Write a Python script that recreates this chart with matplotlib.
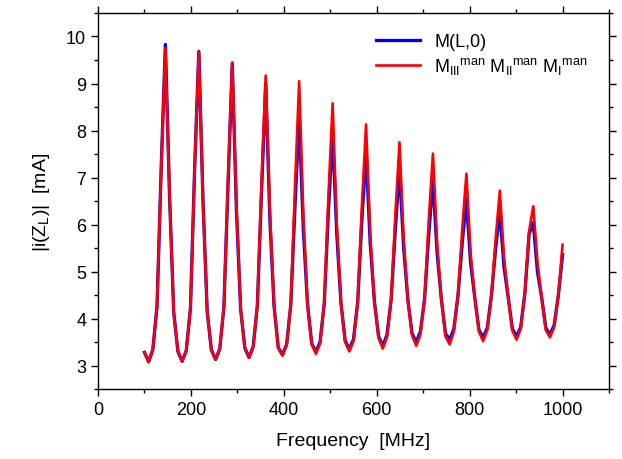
import numpy as np
import matplotlib
matplotlib.use('Agg')
import matplotlib.pyplot as plt
from matplotlib.ticker import MultipleLocator

plt.rcParams['font.family'] = ['Liberation Sans', 'DejaVu Sans']
plt.rcParams['mathtext.fontset'] = 'custom'
plt.rcParams['mathtext.rm'] = 'Liberation Sans'
plt.rcParams['mathtext.it'] = 'Liberation Sans'
plt.rcParams['mathtext.default'] = 'regular'

# frequency sweep [MHz]
freq = [100, 109, 118, 127, 136, 145, 154, 163, 172, 181,
        190, 199, 208, 217, 226, 235, 244, 253, 262, 271,
        280, 289, 298, 307, 316, 325, 334, 343, 352, 361,
        370, 379, 388, 397, 406, 415, 424, 433, 442, 451,
        460, 469, 478, 487, 496, 505, 514, 523, 532, 541,
        550, 559, 568, 577, 586, 595, 604, 613, 622, 631,
        640, 649, 658, 667, 676, 685, 694, 703, 712, 721,
        730, 739, 748, 757, 766, 775, 784, 793, 802, 811,
        820, 829, 838, 847, 856, 865, 874, 883, 892, 901,
        910, 919, 928, 937, 946, 955, 964, 973, 982, 991,
        1000]

# M(L,0)
i_full = [3.28, 3.08, 3.34, 4.26, 7.2, 9.83, 6.6, 4.13, 3.30, 3.09,
          3.32, 4.22, 7.2, 9.68, 6.5, 4.15, 3.33, 3.13, 3.35, 4.25,
          6.9, 9.42, 6.3, 4.20, 3.38, 3.17, 3.40, 4.28, 6.7, 9.00,
          6.1, 4.26, 3.38, 3.23, 3.45, 4.30, 6.4, 8.30, 5.9, 4.30,
          3.47, 3.29, 3.50, 4.32, 6.3, 7.95, 5.8, 4.33, 3.53, 3.35,
          3.56, 4.35, 6.1, 7.55, 5.6, 4.36, 3.62, 3.42, 3.65, 4.40,
          5.9, 7.20, 5.5, 4.40, 3.68, 3.50, 3.72, 4.42, 5.8, 6.95,
          5.4, 4.42, 3.68, 3.55, 3.78, 4.50, 5.6, 6.55, 5.2, 4.45,
          3.76, 3.60, 3.80, 4.50, 5.5, 6.28, 5.1, 4.45, 3.78, 3.62,
          3.82, 4.55, 5.80, 6.04, 5.0, 4.45, 3.80, 3.66, 3.86, 4.50,
          5.36]

# M_III^man M_II^man M_I^man
i_man = [3.28, 3.08, 3.34, 4.26, 7.2, 9.75, 6.6, 4.13, 3.30, 3.09,
         3.32, 4.22, 7.2, 9.67, 6.5, 4.15, 3.33, 3.13, 3.35, 4.25,
         7.0, 9.45, 6.4, 4.20, 3.38, 3.17, 3.40, 4.28, 6.9, 9.17,
         6.3, 4.26, 3.38, 3.21, 3.43, 4.30, 6.8, 9.05, 6.2, 4.30,
         3.45, 3.25, 3.47, 4.32, 6.6, 8.58, 6.0, 4.33, 3.50, 3.30,
         3.52, 4.35, 6.4, 8.13, 5.8, 4.36, 3.58, 3.36, 3.60, 4.40,
         6.2, 7.75, 5.7, 4.40, 3.64, 3.42, 3.66, 4.42, 6.1, 7.51,
         5.6, 4.42, 3.62, 3.45, 3.72, 4.50, 5.9, 7.08, 5.4, 4.45,
         3.72, 3.52, 3.75, 4.50, 5.7, 6.72, 5.3, 4.45, 3.74, 3.55,
         3.78, 4.55, 5.86, 6.39, 5.2, 4.45, 3.75, 3.60, 3.82, 4.50,
         5.57]

fig = plt.figure(figsize=(6.22, 4.6), dpi=100)
ax = fig.add_axes([0.1576, 0.152, 0.8215, 0.8176])

ax.plot(freq, i_full, color='#0000ff', lw=2.4, label='M(L,0)')
ax.plot(freq, i_man, color='#ff0000', lw=1.9,
        label=r'M$_{III}{}^{man}$ M$_{II}{}^{man}$ M$_{I}{}^{man}$')

ax.set_xlim(0, 1100)
ax.set_ylim(2.5, 10.5)
ax.xaxis.set_major_locator(MultipleLocator(200))
ax.xaxis.set_minor_locator(MultipleLocator(100))
ax.yaxis.set_major_locator(MultipleLocator(1))
ax.yaxis.set_minor_locator(MultipleLocator(0.5))
ax.tick_params(which='both', direction='out', top=True, right=True,
               labelsize=13, width=1.0)
ax.tick_params(which='major', length=5)
ax.tick_params(which='minor', length=3)
for s in ax.spines.values():
    s.set_linewidth(1.0)

ax.set_xlabel('Frequency  [MHz]', fontsize=14, labelpad=10)
ax.set_ylabel(r'|i(Z$_L$)|  [mA]', fontsize=14, labelpad=10)

ax.legend(loc='upper right', bbox_to_anchor=(0.99, 0.99), frameon=False,
          fontsize=13, handlelength=2.4, labelspacing=0.3)

fig.savefig('out.png', dpi=100)
